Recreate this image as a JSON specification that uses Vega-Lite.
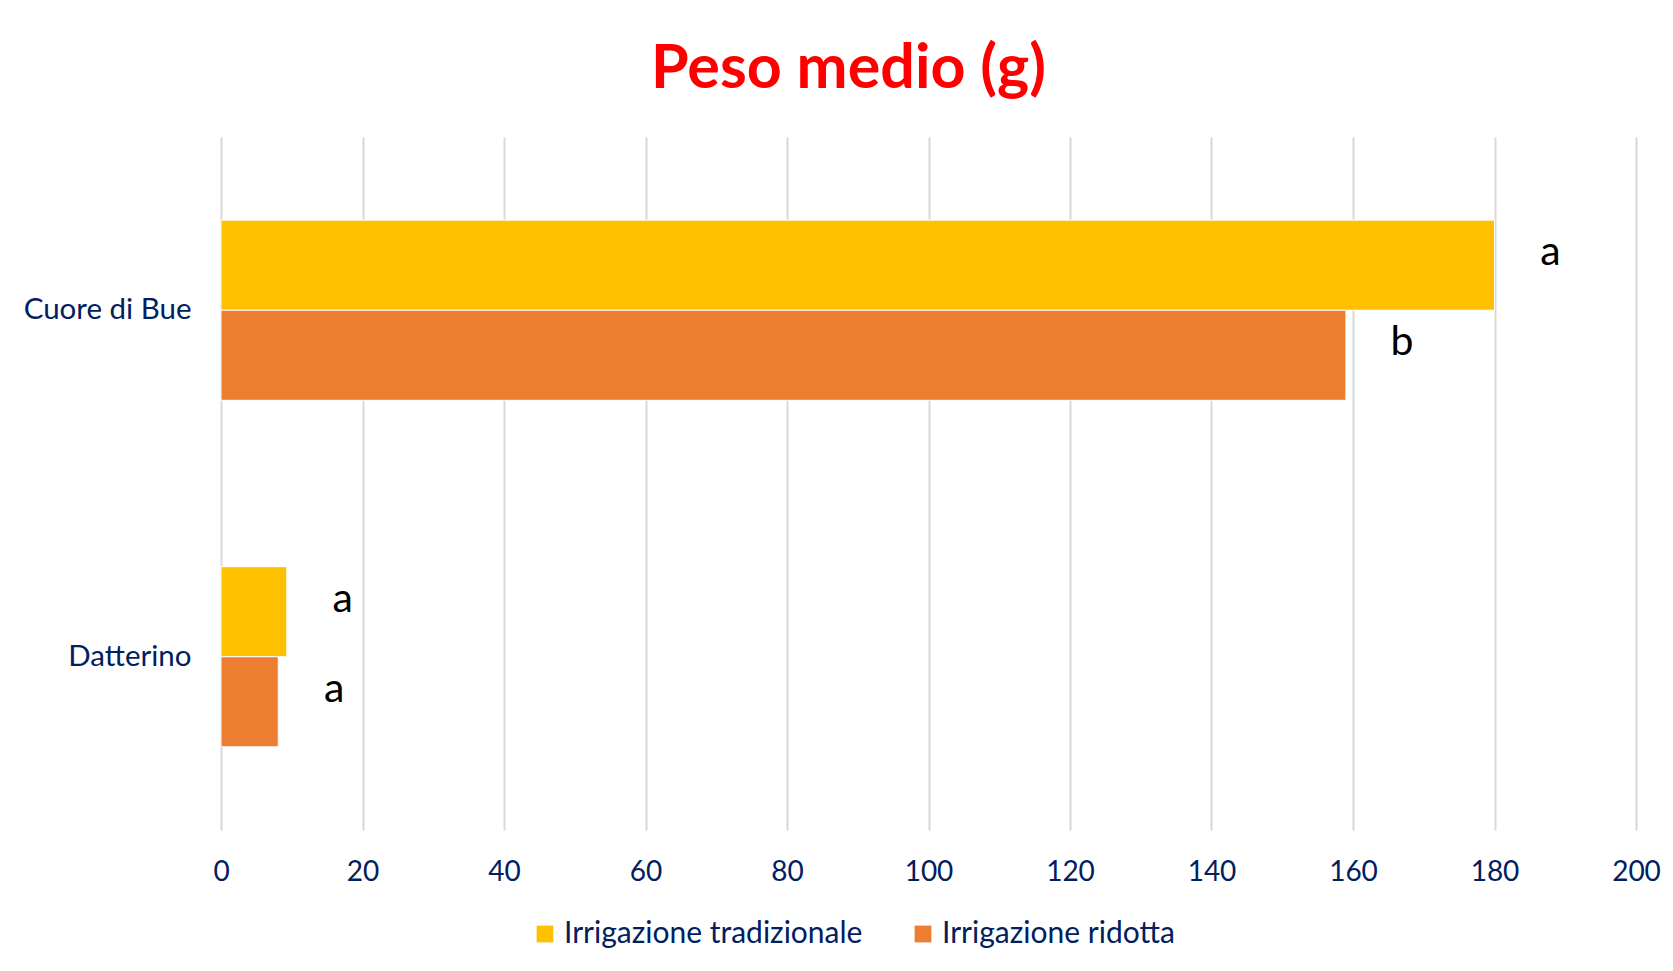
{
  "$schema": "https://vega.github.io/schema/vega-lite/v6.json",
  "width": 1415,
  "height": 693,
  "autosize": {"type": "none"},
  "padding": {"left": 221, "top": 137, "right": 37, "bottom": 141},
  "background": "white",
  "config": {"view": {"stroke": null}},
  "title": {
    "text": "Peso medio (g)",
    "color": "#FF0000",
    "font": "Lato",
    "fontSize": 61,
    "fontWeight": "bold",
    "anchor": "middle",
    "baseline": "bottom",
    "dx": -80,
    "dy": 65,
    "offset": 40
  },
  "data": {
    "values": [
      {"varieta": "Cuore di Bue", "irrigazione": "Irrigazione tradizionale", "peso": 180, "lettera": "a"},
      {"varieta": "Cuore di Bue", "irrigazione": "Irrigazione ridotta", "peso": 159, "lettera": "b"},
      {"varieta": "Datterino", "irrigazione": "Irrigazione tradizionale", "peso": 9.3, "lettera": "a"},
      {"varieta": "Datterino", "irrigazione": "Irrigazione ridotta", "peso": 8.1, "lettera": "a"}
    ]
  },
  "encoding": {
    "y": {
      "field": "varieta",
      "type": "nominal",
      "sort": ["Cuore di Bue", "Datterino"],
      "scale": {"paddingInner": 0.48, "paddingOuter": 0.24},
      "axis": {
        "title": null,
        "domain": false,
        "ticks": false,
        "labelFont": "Lato",
        "labelFontSize": 29.5,
        "labelColor": "#002060",
        "labelPadding": 30
      }
    },
    "yOffset": {
      "field": "irrigazione",
      "type": "nominal",
      "sort": ["Irrigazione tradizionale", "Irrigazione ridotta"],
      "scale": {"paddingInner": 0, "paddingOuter": 0}
    },
    "x": {
      "field": "peso",
      "type": "quantitative",
      "scale": {"domain": [0, 200], "nice": false},
      "axis": {
        "title": null,
        "values": [0, 20, 40, 60, 80, 100, 120, 140, 160, 180, 200],
        "domain": false,
        "ticks": false,
        "grid": true,
        "gridColor": "#D9D9D9",
        "gridWidth": 2,
        "labelFont": "Lato",
        "labelFontSize": 28,
        "labelColor": "#002060",
        "labelPadding": 28,
        "labelFlush": false
      }
    }
  },
  "layer": [
    {
      "mark": {"type": "bar", "stroke": "white", "strokeWidth": 1},
      "encoding": {
        "color": {
          "field": "irrigazione",
          "type": "nominal",
          "sort": ["Irrigazione tradizionale", "Irrigazione ridotta"],
          "scale": {
            "domain": ["Irrigazione tradizionale", "Irrigazione ridotta"],
            "range": ["#FFC000", "#ED7D31"]
          },
          "legend": {
            "title": null,
            "orient": "none",
            "direction": "horizontal",
            "legendX": 309,
            "legendY": 782,
            "symbolType": "square",
            "symbolSize": 280,
            "symbolStrokeWidth": 0,
            "labelFont": "Lato",
            "labelFontSize": 30,
            "labelColor": "#002060",
            "labelOffset": 4,
            "columnPadding": 45,
            "labelLimit": 500
          }
        }
      }
    },
    {
      "mark": {
        "type": "text",
        "dx": 56,
        "dy": -12,
        "font": "Lato",
        "fontSize": 41,
        "color": "black",
        "align": "center",
        "baseline": "middle"
      },
      "encoding": {
        "text": {"field": "lettera", "type": "nominal"}
      }
    }
  ]
}
